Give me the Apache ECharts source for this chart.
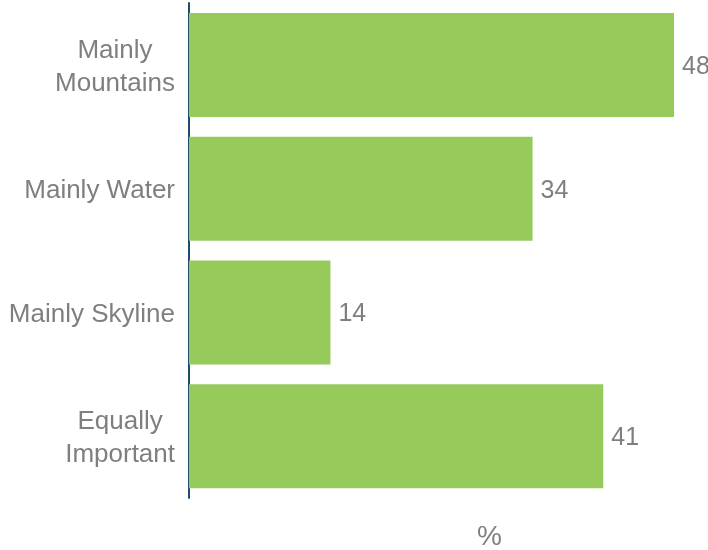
<!DOCTYPE html>
<html>
<head>
<meta charset="utf-8">
<script src="https://cdn.jsdelivr.net/npm/echarts@6/dist/echarts.min.js"></script>
<style>html,body{margin:0;padding:0;background:#fff}#c{width:708px;height:550px}</style>
</head>
<body>
<div id="c"></div>
<script>
const categories = ['Mainly\nMountains', 'Mainly Water', 'Mainly Skyline', 'Equally\nImportant'];
const values = [48, 34, 14, 41];
const axisName = '%';

const chart = echarts.init(document.getElementById('c'));
const font = "'Liberation Sans', Arial, sans-serif";
chart.setOption({
  animation: false,
  grid: { left: 189, right: 34, top: 3, bottom: 52, containLabel: false },
  xAxis: {
    type: 'value', min: 0, max: 48,
    show: false
  },
  yAxis: {
    type: 'category', inverse: true,
    data: categories,
    axisLine: { show: true, lineStyle: { color: '#1F4E6B', width: 2 } },
    axisTick: { show: false },
    splitLine: { show: false },
    axisLabel: {
      margin: 14, color: '#7F7F7F', fontSize: 26, fontFamily: font,
      lineHeight: 33, padding: [4, 0, 0, 0],
      formatter: v => v.split('\n').map(s => '{a|' + s + '}').join('\n'),
      rich: { a: { align: 'center', fontSize: 26, lineHeight: 33, color: '#7F7F7F', fontFamily: font } }
    }
  },
  graphic: [{
    type: 'text', left: 477, top: 523,
    style: { text: axisName, fill: '#7F7F7F', fontSize: 28, fontFamily: font }
  }],
  series: [{
    type: 'bar', data: values, barWidth: 104,
    itemStyle: { color: '#96CA5A' },
    label: { show: true, position: 'right', distance: 8, offset: [0, 2], color: '#7F7F7F', fontSize: 25, fontFamily: font }
  }]
});
</script>
</body>
</html>
